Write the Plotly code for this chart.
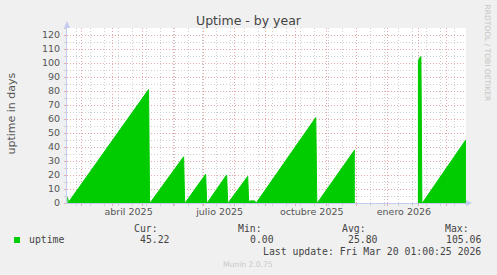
import plotly.graph_objects as go

# ---- data ----
dates = [
    "2025-02-15", "2025-02-16", "2025-05-07", "2025-05-08",
    "2025-05-09", "2025-06-11", "2025-06-12",
    "2025-06-13", "2025-07-03", "2025-07-04",
    "2025-07-05", "2025-07-24", "2025-07-25",
    "2025-07-26", "2025-08-14", "2025-08-15",
    "2025-08-16", "2025-08-21", "2025-08-22",
    "2025-08-23", "2025-10-21", "2025-10-22",
    "2025-10-23", "2025-11-29", "2025-11-30",
    "2026-01-30", "2026-01-31", "2026-02-01", "2026-02-02", "2026-02-03",
    "2026-02-04", "2026-02-05", "2026-03-20",
]
uptime = [
    4, 0.5, 81, 0,
    0.5, 33, 0,
    0.5, 20.5, 0,
    0.5, 20, 0,
    0.5, 19, 0,
    1.5, 1.5, 0,
    0.5, 61, 0,
    0.5, 38, None,
    None, 102, 102, 104, 104.5,
    0, 0.5, 45.2,
]
month_label_dates = ["2025-04-17", "2025-07-17", "2025-10-17", "2026-01-17"]
month_labels = ["abril 2025", "julio 2025", "octubre 2025", "enero 2026"]
y_ticks = list(range(0, 121, 10))
stat_names = ["Cur:", "Min:", "Avg:", "Max:"]
stat_values = [45.22, 0.00, 25.80, 105.06]
series_name = "uptime"
title = "Uptime - by year"
y_title = "uptime in days"
last_update = "Last update: Fri Mar 20 01:00:25 2026"
x_range = ["2025-02-14 12:00", "2026-03-20 01:00"]

# ---- geometry helpers (pixels -> paper) ----
W, H = 497, 275
L, R, T, B = 67, 466, 28, 203
def px(x):
    return (x - L) / (R - L)
def py(y):
    return (B - y) / (B - T)

GREEN = "#00CC00"
MAJ = "#E6A8A8"
MIN = "#D0D0D0"
AXIS = "#C4CAF2"
TXT = "#555555"

fig = go.Figure()

# split the series at unknown (None) values so the area is not bridged
segments, cur = [], ([], [])
for d, v in zip(dates, uptime):
    if v is None:
        if cur[0]:
            segments.append(cur)
        cur = ([], [])
    else:
        cur[0].append(d)
        cur[1].append(v)
if cur[0]:
    segments.append(cur)

for sx, sy in segments:
    fig.add_trace(go.Scatter(
        x=sx, y=sy, mode="lines", fill="tozeroy",
        line=dict(color=GREEN, width=1), fillcolor=GREEN,
        showlegend=False, hoverinfo="skip", name=series_name,
    ))

fig.update_layout(
    width=W, height=H,
    margin=dict(l=L, r=W - R, t=T, b=H - B, pad=0),
    paper_bgcolor="#F0F0F0", plot_bgcolor="#FFFFFF",
    showlegend=False,
    xaxis=dict(
        type="date", range=x_range, showticklabels=False,
        dtick="M1", tick0="2025-01-01",
        showgrid=True, gridcolor=MAJ, griddash="1px,2px", gridwidth=1,
        ticks="outside", ticklen=2, tickcolor=MAJ,
        minor=dict(dtick=14 * 86400000, tick0="2025-12-29", showgrid=True,
                   gridcolor=MIN, griddash="1px,2px", ticks="outside",
                   ticklen=2, tickcolor=MIN),
        showline=True, linecolor=AXIS, linewidth=1,
        zeroline=False, fixedrange=True,
    ),
    xaxis2=dict(
        type="date", range=x_range, overlaying="x", anchor="y", side="bottom",
        tickvals=month_label_dates, ticktext=month_labels,
        showgrid=False, ticks="", showline=False, zeroline=False,
        tickfont=dict(family="DejaVu Sans", size=9.5, color=TXT),
        ticklabelstandoff=1,
    ),
    yaxis=dict(
        range=[0, 125], tickvals=y_ticks,
        showgrid=True, gridcolor=MAJ, griddash="1px,2px", gridwidth=1,
        ticks="outside", ticklen=2, tickcolor=MAJ,
        minor=dict(dtick=5, showgrid=True, gridcolor=MIN, griddash="1px,2px",
                   ticks="outside", ticklen=2, tickcolor=MIN),
        showline=True, linecolor=AXIS, linewidth=1,
        zeroline=False, fixedrange=True,
        tickfont=dict(family="DejaVu Sans", size=9.5, color=TXT),
        ticklabelstandoff=2,
    ),
)

# invisible carrier so the label axis is drawn
fig.add_trace(go.Scatter(x=[month_label_dates[0]], y=[None], xaxis="x2",
                         mode="lines", showlegend=False, hoverinfo="skip"))

ann = []
ann.append(dict(text=title, x=px(249), y=py(20.5), xref="paper", yref="paper",
                xanchor="center", yanchor="middle", showarrow=False,
                font=dict(family="DejaVu Sans", size=12.5, color="#444444")))
ann.append(dict(text=y_title, x=px(10.5), y=py(114), xref="paper", yref="paper",
                xanchor="center", yanchor="middle", showarrow=False, textangle=-90,
                font=dict(family="DejaVu Sans", size=11, color=TXT)))
ann.append(dict(text="RRDTOOL / TOBI OETIKER", x=px(487.5), y=py(53), xref="paper",
                yref="paper", xanchor="center", yanchor="middle", showarrow=False,
                textangle=90, font=dict(family="DejaVu Sans", size=7.5, color="#C4C4C4")))

MONO = dict(family="DejaVu Sans Mono", size=9.8, color="#444444")
ann.append(dict(text=series_name, x=px(26.5), y=py(239.5), xref="paper", yref="paper",
                xanchor="left", yanchor="middle", showarrow=False, font=MONO))
val_right = [172, 275.5, 379.5, 483]
for name, val, xr in zip(stat_names, stat_values, val_right):
    ann.append(dict(text=name, x=px(xr - 11.8), y=py(228), xref="paper", yref="paper",
                    xanchor="right", yanchor="middle", showarrow=False, font=MONO))
    ann.append(dict(text="%.2f" % val, x=px(xr), y=py(239.5), xref="paper", yref="paper",
                    xanchor="right", yanchor="middle", showarrow=False, font=MONO))
ann.append(dict(text=last_update, x=px(483), y=py(251.5), xref="paper", yref="paper",
                xanchor="right", yanchor="middle", showarrow=False, font=MONO))
ann.append(dict(text="Munin 2.0.75", x=px(247.5), y=py(264.5), xref="paper", yref="paper",
                xanchor="center", yanchor="middle", showarrow=False,
                font=dict(family="DejaVu Sans", size=7.6, color="#C8C8C8")))
fig.update_layout(annotations=ann)

shapes = []
# legend swatch
shapes.append(dict(type="rect", xref="paper", yref="paper",
                   x0=px(14), x1=px(20), y0=py(243), y1=py(237),
                   fillcolor=GREEN, line=dict(width=0)))
# axis arrowheads
shapes.append(dict(type="path", xref="paper", yref="paper",
                   path="M %f %f L %f %f L %f %f Z" % (px(64), py(28), px(70), py(28), px(67), py(21)),
                   fillcolor=AXIS, line=dict(width=0)))
shapes.append(dict(type="path", xref="paper", yref="paper",
                   path="M %f %f L %f %f L %f %f Z" % (px(466), py(200), px(466), py(206), px(472), py(203)),
                   fillcolor=AXIS, line=dict(width=0)))
fig.update_layout(shapes=shapes)

fig.write_html("out.html")
